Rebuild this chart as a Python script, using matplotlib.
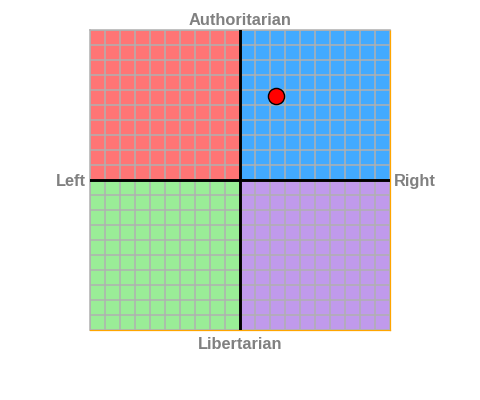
import matplotlib
matplotlib.use("Agg")
import matplotlib.pyplot as plt
import numpy as np

# quadrants: (x0, x1, y0, y1, colour)
quad_x = [(-10, 0), (0, 10), (-10, 0), (0, 10)]
quad_y = [(0, 10), (0, 10), (-10, 0), (-10, 0)]
quad_colors = ["#ff7575", "#42aaff", "#9aed97", "#c09aec"]

# the result point (economic, social)
point_x = [2.38]
point_y = [5.62]

grid_ticks = np.arange(-10, 11, 1)


def main():
    fig = plt.figure(figsize=(4.8, 4.0), dpi=100)
    ax = fig.add_axes([90 / 480, 70 / 400, 300 / 480, 300 / 400])

    for (x0, x1), (y0, y1), c in zip(quad_x, quad_y, quad_colors):
        ax.fill_between([x0, x1], y0, y1, color=c, linewidth=0, zorder=1)

    ax.set_xlim(-10, 10)
    ax.set_ylim(-10, 10)
    ax.set_xticks(grid_ticks)
    ax.set_yticks(grid_ticks)
    ax.tick_params(length=0, labelbottom=False, labelleft=False)
    ax.grid(True, color="#b0b0b0", linewidth=1.1, zorder=2)
    ax.set_axisbelow(False)

    for s in ["top", "left"]:
        ax.spines[s].set_color("#b0b0b0")
        ax.spines[s].set_linewidth(1.1)
    for s in ["right", "bottom"]:
        ax.spines[s].set_color("#ffa500")
        ax.spines[s].set_linewidth(0.9)

    ax.axhline(0, color="black", linewidth=2.1, zorder=3)
    ax.axvline(0, color="black", linewidth=2.1, zorder=3)

    ax.scatter(point_x, point_y, s=135, color="red", edgecolor="black",
               linewidth=1.0, zorder=4)

    font = dict(family="Liberation Sans", fontweight="bold", fontsize=11.8, color="#808080")
    ax.text(0.5, 1.017, "Authoritarian", transform=ax.transAxes, ha="center", va="baseline", **font)
    ax.text(0.5, -0.063, "Libertarian", transform=ax.transAxes, ha="center", va="baseline", **font)
    ax.text(-0.013, 0.479, "Left", transform=ax.transAxes, ha="right", va="baseline", **font)
    ax.text(1.012, 0.479, "Right", transform=ax.transAxes, ha="left", va="baseline", **font)

    fig.savefig("out.png", dpi=100)
    plt.close(fig)


if __name__ == "__main__":
    main()
